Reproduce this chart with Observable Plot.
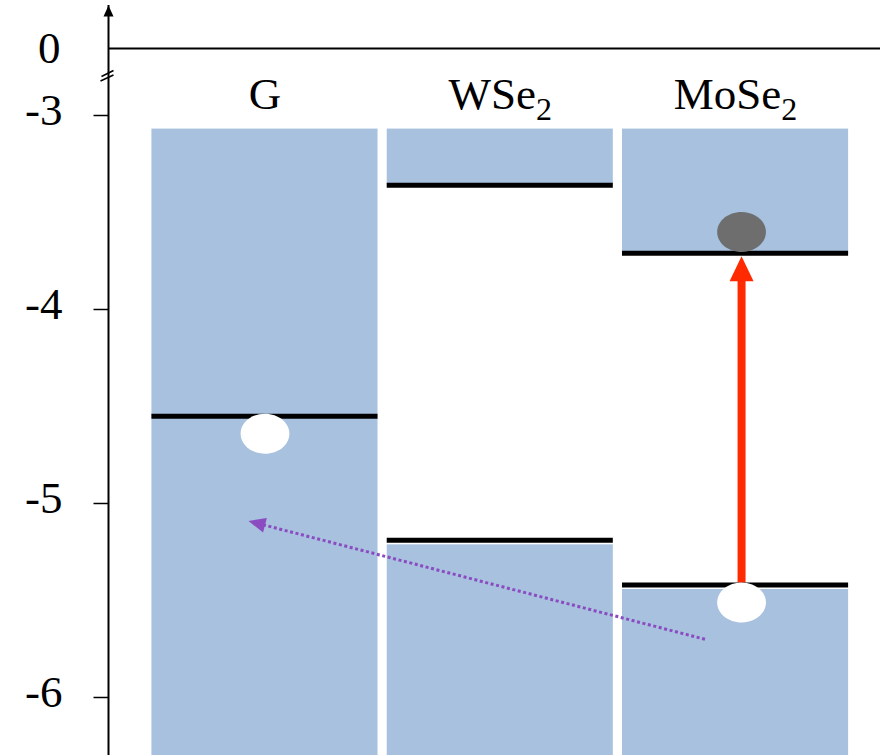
<!DOCTYPE html>
<html>
<head>
<meta charset="utf-8">
<script src="https://cdn.jsdelivr.net/npm/d3@7"></script>
<script src="https://cdn.jsdelivr.net/npm/@observablehq/plot@0.6"></script>
<style>
  html, body { margin: 0; padding: 0; background: #fff; }
  #chart svg { display: block; }
</style>
</head>
<body>
<div id="chart"></div>
<script>
// Layers of the heterostructure, left to right
const materials = ["G", "WSe₂", "MoSe₂"];
// Band edges (eV, relative to vacuum). Graphene: single Dirac/Fermi level.
const conductionEdge = [-4.55, -3.36, -3.71];
const valenceEdge = [-4.55, -5.19, -5.42];
// Energy axis
const energyTicks = [-3, -4, -5, -6];
const vacuumTick = [0];
// Carriers drawn on the diagram
const carrierMaterial = [0, 2, 2];
const carrierEnergy = [-4.64, -3.60, -5.51];
const carrierKind = ["hole", "electron", "hole"];
// Hole transfer from MoSe2 valence band into graphene (layer index, energy)
const transferFrom = [1.87, -5.70];
const transferTo = [-0.07, -5.09];

// ---- layout ----
const width = 891, height = 755;
const marginLeft = 108, marginRight = 11, marginTop = 5;
const xDomain = [-0.665, 2.616];
const yDomain = [-6.299, -2.433];
// broken energy axis: everything above -3 eV is squeezed so 0 sits just above -3
const breakAt = -3, squeeze = 0.1151;
const brk = v => v < breakAt ? v : breakAt + (v - breakAt) * squeeze;
const bandWindowTop = -3.07;
const labelY = -2.06;
const breakY = -1.21;

const blue = "#a7c1df";
const red = "#ff2a00";
const purple = "#8a4cc0";
const font = "'Liberation Serif', 'DejaVu Serif', serif";

// ---- derived tables ----
const layers = materials.map((name, i) => ({
  i, name, cb: conductionEdge[i], vb: valenceEdge[i], gapped: conductionEdge[i] > valenceEdge[i]
}));
const upperBlocks = layers.map(d => ({i: d.i, y1: bandWindowTop, y2: d.gapped ? d.cb : yDomain[0]}));
const lowerBlocks = layers.filter(d => d.gapped).map(d => ({i: d.i, y1: d.vb, y2: yDomain[0]}));
const levels = layers.flatMap(d => d.gapped ? [{i: d.i, e: d.cb}, {i: d.i, e: d.vb}] : [{i: d.i, e: d.cb}]);
const carriers = carrierMaterial.map((m, k) => ({m, e: carrierEnergy[k], kind: carrierKind[k]}));
const excitation = layers.filter(d => d.name === "MoSe₂").map(d => ({i: d.i, from: d.vb, to: d.cb}));
const transfer = [{x1: transferFrom[0], y1: transferFrom[1], x2: transferTo[0], y2: transferTo[1]}];

// direction of the transfer arrow in screen space, for its head
const sx = d3.scaleLinear(xDomain, [marginLeft, width - marginRight]);
const sy = d3.scaleLinear(yDomain, [height, marginTop]);
const transferAngle = Math.atan2(sy(brk(transferTo[1])) - sy(brk(transferFrom[1])), sx(transferTo[0]) - sx(transferFrom[0])) * 180 / Math.PI + 90;

// ---- symbols ----
const ellipse = {
  draw(ctx, size) {
    const ry = Math.sqrt(size / Math.PI), rx = ry * 1.22, k = 0.5523;
    ctx.moveTo(rx, 0);
    ctx.bezierCurveTo(rx, k * ry, k * rx, ry, 0, ry);
    ctx.bezierCurveTo(-k * rx, ry, -rx, k * ry, -rx, 0);
    ctx.bezierCurveTo(-rx, -k * ry, -k * rx, -ry, 0, -ry);
    ctx.bezierCurveTo(k * rx, -ry, rx, -k * ry, rx, 0);
    ctx.closePath();
  }
};
// filled arrowhead with its tip at the anchor, pointing up
const head = (w, h) => ({
  draw(ctx) { ctx.moveTo(0, 0); ctx.lineTo(w / 2, h); ctx.lineTo(-w / 2, h); ctx.closePath(); }
});
// double slash marking the axis break
const axisBreak = {
  draw(ctx) { ctx.moveTo(-8, 5.5); ctx.lineTo(5, -0.5); ctx.moveTo(-7, 1); ctx.lineTo(5, -5); }
};
// outward tick on the energy axis
const leftTick = {
  draw(ctx) { ctx.moveTo(-15, 0); ctx.lineTo(0, 0); }
};

const axisX = () => xDomain[0];
const Y = key => d => brk(d[key]);

const chart = Plot.plot({
  width, height, marginLeft, marginRight, marginTop, marginBottom: 0,
  style: {fontFamily: font, background: "#fff"},
  x: {domain: xDomain, axis: null},
  y: {domain: yDomain, axis: null},
  marks: [
    // band blocks
    Plot.rect(upperBlocks, {x1: d => d.i - 0.5, x2: d => d.i + 0.5, y1: Y("y1"), y2: Y("y2"), fill: blue, insetLeft: 4.6, insetRight: 4.6}),
    Plot.rect(lowerBlocks, {x1: d => d.i - 0.5, x2: d => d.i + 0.5, y1: Y("y1"), y2: Y("y2"), fill: blue, insetLeft: 4.6, insetRight: 4.6, insetTop: 4.5}),
    // vacuum level and energy axis
    Plot.ruleY(vacuumTick, {y: brk, stroke: "#000", strokeWidth: 2}),
    Plot.ruleX([xDomain[0]], {stroke: "#000", strokeWidth: 2}),
    Plot.dot([0], {frameAnchor: "top-left", symbol: head(10, 11), fill: "#000", stroke: "none"}),
    Plot.dot([0], {x: axisX, y: () => brk(breakY), symbol: axisBreak, fill: "none", stroke: "#000", strokeWidth: 1.5}),
    Plot.dot(energyTicks, {x: axisX, y: brk, symbol: leftTick, fill: "none", stroke: "#000", strokeWidth: 1.5}),
    Plot.text(energyTicks, {x: axisX, y: brk, text: d => String(d), textAnchor: "end", dx: -46, dy: -5, fontSize: 45, fill: "#000"}),
    Plot.text(vacuumTick, {x: axisX, y: brk, text: d => String(d), textAnchor: "end", dx: -48, fontSize: 45, fill: "#000"}),
    // layer names
    Plot.text(materials, {x: (d, i) => i, y: () => brk(labelY), text: d => d, fontSize: 45, fill: "#000"}),
    // optical excitation in MoSe2
    Plot.arrow(excitation, {x1: "i", x2: "i", y1: Y("from"), y2: Y("to"), dx: 6, headLength: 0, insetEnd: 27, stroke: red, strokeWidth: 8, strokeLinecap: "butt"}),
    // hole transfer into graphene
    Plot.arrow(transfer, {x1: "x1", y1: Y("y1"), x2: "x2", y2: Y("y2"), headLength: 0, insetEnd: 12, stroke: purple, strokeWidth: 3, strokeDasharray: "3,2.6", strokeLinecap: "butt"}),
    Plot.dot(transfer, {x: "x2", y: Y("y2"), symbol: head(15, 17), rotate: transferAngle, fill: purple, stroke: "none"}),
    // band edges
    Plot.ruleY(levels, {y: Y("e"), x1: d => d.i - 0.5, x2: d => d.i + 0.5, insetLeft: 4.6, insetRight: 4.6, stroke: "#000", strokeWidth: 5}),
    // arrowhead of the excitation
    Plot.dot(excitation, {x: "i", y: Y("to"), dx: 6, dy: 3, symbol: head(24, 25), fill: red, stroke: "none"}),
    // carriers
    Plot.dot(carriers.filter(d => d.m === 0), {x: "m", y: Y("e"), r: 20, symbol: ellipse, fill: d => d.kind === "hole" ? "#fff" : "#6e6e6e", stroke: "none"}),
    Plot.dot(carriers.filter(d => d.m === 2), {x: "m", y: Y("e"), dx: 6, r: 20, symbol: ellipse, fill: d => d.kind === "hole" ? "#fff" : "#6e6e6e", stroke: "none"})
  ]
});

// set chemical subscripts as lowered, smaller digits
for (const t of chart.querySelectorAll("text")) {
  const s = t.textContent;
  const k = s.indexOf("₂");
  if (k < 0 || t.children.length) continue;
  t.textContent = s.slice(0, k);
  const sub = document.createElementNS("http://www.w3.org/2000/svg", "tspan");
  sub.setAttribute("font-size", "32");
  sub.setAttribute("dy", "11");
  sub.textContent = "2";
  t.appendChild(sub);
}

document.getElementById("chart").appendChild(chart);
</script>
</body>
</html>
